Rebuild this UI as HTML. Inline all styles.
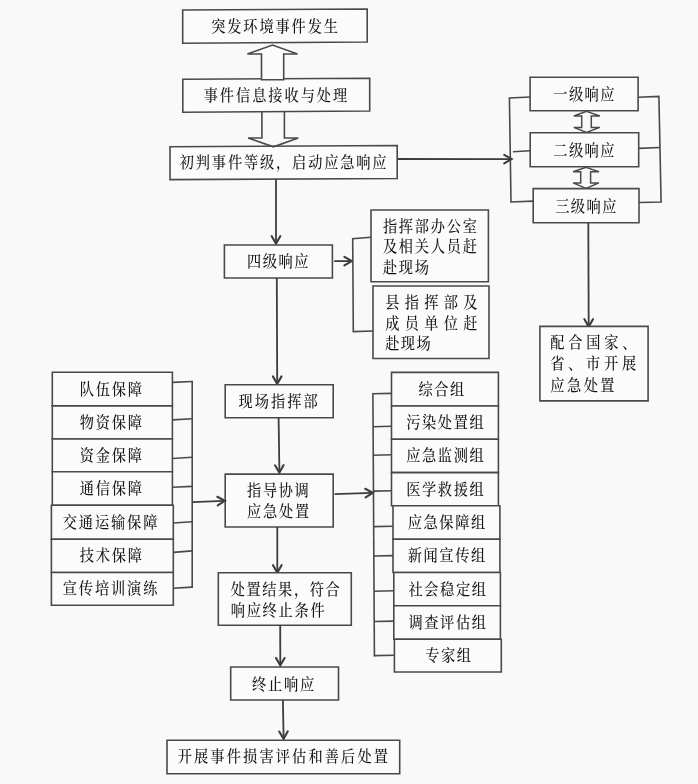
<!DOCTYPE html>
<html lang="zh-CN">
<head>
<meta charset="utf-8">
<title>突发环境事件应急响应流程图</title>
<style>
html,body{margin:0;padding:0;background:#f9f9f9;}
body{width:698px;height:784px;overflow:hidden;}
svg{display:block;}
text{font-family:"Liberation Serif","Noto Serif CJK SC",serif;fill:#161616;font-weight:500;}
</style>
</head>
<body>
<svg width="698" height="784" viewBox="0 0 698 784">
<defs><filter id="soft" x="0" y="0" width="698" height="784" filterUnits="userSpaceOnUse"><feGaussianBlur stdDeviation="0.35"/></filter></defs>
<rect x="0" y="0" width="698" height="784" fill="#f9f9f9"/>
<g filter="url(#soft)">
<path d="M182.7 10.0 L367.2 9.0 L367.2 42.0 L182.7 43.2 Z" fill="#fbfbfb" stroke="#4a4a4a" stroke-width="1.6" stroke-linejoin="miter"/>
<path d="M182.8 79.3 L369.7 78.3 L369.7 111.0 L182.8 112.2 Z" fill="#fbfbfb" stroke="#4a4a4a" stroke-width="1.6" stroke-linejoin="miter"/>
<path d="M170.0 146.8 L397.2 145.5 L397.2 178.5 L170.0 179.6 Z" fill="#fbfbfb" stroke="#4a4a4a" stroke-width="1.6" stroke-linejoin="miter"/>
<text transform="translate(211.13 31.55) scale(0.9 1)" font-size="15.8" x="0.00 17.89 35.78 53.67 71.56 89.44 107.33 125.22" y="0">突发环境事件发生</text>
<text transform="translate(203.73 100.85) scale(0.9 1)" font-size="15.8" x="0.00 17.94 35.89 53.83 71.78 89.72 107.67 125.61 143.56" y="0">事件信息接收与处理</text>
<text transform="translate(179.73 168.15) scale(0.9 1)" font-size="15.8" x="0.00 17.83 35.67 53.50 71.33 89.17 107.00 124.83 142.67 160.50 178.33 196.17 214.00" y="0">初判事件等级，启动应急响应</text>
<path d="M261.5 79.7 L261.5 54.0 L247.4 54.0 L272.5 45.0 L297.5 54.0 L283.7 54.0 L283.7 79.7 Z" fill="#fbfbfb" stroke="#4a4a4a" stroke-width="1.6" stroke-linejoin="miter"/>
<path d="M261.9 112.0 L261.9 138.0 L248.1 138.0 L273.5 146.8 L298.3 138.0 L284.4 138.0 L284.4 112.0" fill="none" stroke="#4a4a4a" stroke-width="1.6" stroke-linejoin="miter"/>
<path d="M530.1 77.2 L638.1 77.2 L638.1 110.8 L530.1 110.8 Z" fill="#fbfbfb" stroke="#4a4a4a" stroke-width="1.6" stroke-linejoin="miter"/>
<path d="M530.2 132.8 L638.7 132.8 L638.7 166.7 L530.2 166.7 Z" fill="#fbfbfb" stroke="#4a4a4a" stroke-width="1.6" stroke-linejoin="miter"/>
<path d="M533.2 188.6 L639.0 188.6 L639.0 222.8 L533.2 222.8 Z" fill="#fbfbfb" stroke="#4a4a4a" stroke-width="1.6" stroke-linejoin="miter"/>
<text transform="translate(553.33 100.25) scale(0.9 1)" font-size="15.8" x="0.00 17.39 34.78 52.17" y="0">一级响应</text>
<text transform="translate(553.33 156.05) scale(0.9 1)" font-size="15.8" x="0.00 17.39 34.78 52.17" y="0">二级响应</text>
<text transform="translate(555.23 211.85) scale(0.9 1)" font-size="15.8" x="0.00 17.39 34.78 52.17" y="0">三级响应</text>
<path d="M586.5 111.4 L599.8 116.0 L591.3 116.0 L591.3 127.4 L599.8 127.4 L586.5 132.4 L573.8 127.4 L581.7 127.4 L581.7 116.0 L573.8 116.0 Z" fill="none" stroke="#4a4a4a" stroke-width="1.5" stroke-linejoin="miter"/>
<path d="M586.1 167.4 L598.9 171.7 L590.6 171.7 L590.6 182.9 L598.9 182.9 L586.1 188.4 L573.1 182.9 L580.7 182.9 L580.7 171.7 L573.1 171.7 Z" fill="none" stroke="#4a4a4a" stroke-width="1.5" stroke-linejoin="miter"/>
<path d="M530.3 97.0 L509.4 98.0 L511.0 202.0 L533.0 201.1" fill="none" stroke="#4a4a4a" stroke-width="1.6" stroke-linejoin="miter"/>
<path d="M512.9 151.8 L530.2 150.8" fill="none" stroke="#4a4a4a" stroke-width="1.6"/>
<path d="M638.1 97.3 L658.9 96.4 L661.1 202.0 L639.0 202.5" fill="none" stroke="#4a4a4a" stroke-width="1.6" stroke-linejoin="miter"/>
<path d="M638.7 148.4 L659.9 147.5" fill="none" stroke="#4a4a4a" stroke-width="1.6"/>
<path d="M397.2 159.0 L510.8 159.1" fill="none" stroke="#3e3e3e" stroke-width="1.8"/>
<path d="M504.2 163.4 L511.6 159.1 L504.2 154.8" fill="none" stroke="#3e3e3e" stroke-width="2.1" stroke-linejoin="miter" stroke-linecap="round"/>
<path d="M588.3 222.8 L588.7 325.8" fill="none" stroke="#3e3e3e" stroke-width="1.8"/>
<path d="M584.4 319.2 L588.7 326.6 L593.0 319.2" fill="none" stroke="#3e3e3e" stroke-width="2.1" stroke-linejoin="miter" stroke-linecap="round"/>
<path d="M539.9 326.4 L648.1 326.4 L648.1 400.9 L539.9 400.9 Z" fill="#fbfbfb" stroke="#4a4a4a" stroke-width="1.6" stroke-linejoin="miter"/>
<text transform="translate(550.13 348.45) scale(0.9 1)" font-size="15.8" x="0.00 20.06 40.11 60.17 80.22" y="0">配合国家、</text>
<text transform="translate(550.13 369.45) scale(0.9 1)" font-size="15.8" x="0.00 19.94 39.89 59.83 79.78" y="0">省、市开展</text>
<text transform="translate(550.13 391.15) scale(0.9 1)" font-size="15.8" x="0.00 18.61 37.22 55.83" y="0">应急处置</text>
<path d="M276.0 179.3 L276.0 242.8" fill="none" stroke="#3e3e3e" stroke-width="1.8"/>
<path d="M271.7 236.2 L276.0 243.6 L280.3 236.2" fill="none" stroke="#3e3e3e" stroke-width="2.1" stroke-linejoin="miter" stroke-linecap="round"/>
<path d="M224.4 245.0 L332.4 245.0 L332.4 278.0 L224.4 278.0 Z" fill="#fbfbfb" stroke="#4a4a4a" stroke-width="1.6" stroke-linejoin="miter"/>
<text transform="translate(247.03 267.35) scale(0.9 1)" font-size="15.8" x="0.00 17.50 35.00 52.50" y="0">四级响应</text>
<path d="M334.2 261.1 L351.0 261.1" fill="none" stroke="#3e3e3e" stroke-width="1.8"/>
<path d="M344.4 265.4 L351.8 261.1 L344.4 256.8" fill="none" stroke="#3e3e3e" stroke-width="2.1" stroke-linejoin="miter" stroke-linecap="round"/>
<path d="M371.0 237.2 L352.7 238.8 L353.3 331.6 L373.0 331.0" fill="none" stroke="#4a4a4a" stroke-width="1.6" stroke-linejoin="miter"/>
<path d="M371.0 210.0 L488.4 210.0 L488.4 281.7 L371.0 281.7 Z" fill="#fbfbfb" stroke="#4a4a4a" stroke-width="1.6" stroke-linejoin="miter"/>
<path d="M373.0 286.0 L489.0 286.0 L489.0 358.5 L373.0 358.5 Z" fill="#fbfbfb" stroke="#4a4a4a" stroke-width="1.6" stroke-linejoin="miter"/>
<text transform="translate(382.93 231.65) scale(0.9 1)" font-size="15.8" x="0.00 17.72 35.44 53.17 70.89 88.61" y="0">指挥部办公室</text>
<text transform="translate(382.93 252.35) scale(0.9 1)" font-size="15.8" x="0.00 17.72 35.44 53.17 70.89 88.61" y="0">及相关人员赶</text>
<text transform="translate(382.93 272.75) scale(0.9 1)" font-size="15.8" x="0.00 17.72 35.44" y="0">赴现场</text>
<text transform="translate(385.13 308.05) scale(0.9 1)" font-size="15.8" x="0.00 21.72 43.44 65.17 86.89" y="0">县指挥部及</text>
<text transform="translate(385.13 328.55) scale(0.9 1)" font-size="15.8" x="0.00 21.72 43.44 65.17 86.89" y="0">成员单位赶</text>
<text transform="translate(385.13 348.85) scale(0.9 1)" font-size="15.8" x="0.00 17.50 35.00" y="0">赴现场</text>
<path d="M276.8 278.0 L277.2 383.0" fill="none" stroke="#3e3e3e" stroke-width="1.8"/>
<path d="M272.9 376.4 L277.2 383.8 L281.5 376.4" fill="none" stroke="#3e3e3e" stroke-width="2.1" stroke-linejoin="miter" stroke-linecap="round"/>
<path d="M225.2 384.7 L333.2 384.7 L333.2 417.8 L225.2 417.8 Z" fill="#fbfbfb" stroke="#4a4a4a" stroke-width="1.6" stroke-linejoin="miter"/>
<text transform="translate(238.43 406.55) scale(0.9 1)" font-size="15.8" x="0.00 18.06 36.11 54.17 72.22" y="0">现场指挥部</text>
<path d="M278.6 417.8 L279.4 471.8" fill="none" stroke="#3e3e3e" stroke-width="1.8"/>
<path d="M275.0 465.3 L279.4 472.6 L283.6 465.1" fill="none" stroke="#3e3e3e" stroke-width="2.1" stroke-linejoin="miter" stroke-linecap="round"/>
<path d="M225.2 474.1 L333.2 474.1 L333.2 527.0 L225.2 527.0 Z" fill="#fbfbfb" stroke="#4a4a4a" stroke-width="1.6" stroke-linejoin="miter"/>
<text transform="translate(247.03 495.85) scale(0.9 1)" font-size="15.8" x="0.00 17.61 35.22 52.83" y="0">指导协调</text>
<text transform="translate(247.03 517.05) scale(0.9 1)" font-size="15.8" x="0.00 17.78 35.56 53.33" y="0">应急处置</text>
<path d="M277.3 527.0 L277.3 571.8" fill="none" stroke="#3e3e3e" stroke-width="1.8"/>
<path d="M273.0 565.2 L277.3 572.6 L281.6 565.2" fill="none" stroke="#3e3e3e" stroke-width="2.1" stroke-linejoin="miter" stroke-linecap="round"/>
<path d="M218.3 572.8 L351.3 572.8 L351.3 625.3 L218.3 625.3 Z" fill="#fbfbfb" stroke="#4a4a4a" stroke-width="1.6" stroke-linejoin="miter"/>
<text transform="translate(230.73 595.45) scale(0.9 1)" font-size="15.8" x="0.00 17.56 35.11 52.67 70.22 87.78 105.33" y="0">处置结果，符合</text>
<text transform="translate(230.73 615.65) scale(0.9 1)" font-size="15.8" x="0.00 17.72 35.44 53.17 70.89 88.61" y="0">响应终止条件</text>
<path d="M280.2 625.4 L280.3 664.6" fill="none" stroke="#3e3e3e" stroke-width="1.8"/>
<path d="M276.0 658.0 L280.3 665.4 L284.6 658.0" fill="none" stroke="#3e3e3e" stroke-width="2.1" stroke-linejoin="miter" stroke-linecap="round"/>
<path d="M230.7 667.0 L338.5 667.0 L338.5 700.0 L230.7 700.0 Z" fill="#fbfbfb" stroke="#4a4a4a" stroke-width="1.6" stroke-linejoin="miter"/>
<text transform="translate(251.93 689.75) scale(0.9 1)" font-size="15.8" x="0.00 17.83 35.67 53.50" y="0">终止响应</text>
<path d="M282.9 700.0 L283.6 738.0" fill="none" stroke="#3e3e3e" stroke-width="1.8"/>
<path d="M279.2 731.5 L283.6 738.8 L287.8 731.3" fill="none" stroke="#3e3e3e" stroke-width="2.1" stroke-linejoin="miter" stroke-linecap="round"/>
<path d="M167.0 740.2 L399.7 740.2 L399.7 773.8 L167.0 773.8 Z" fill="#fbfbfb" stroke="#4a4a4a" stroke-width="1.6" stroke-linejoin="miter"/>
<text transform="translate(177.63 762.45) scale(0.9 1)" font-size="15.8" x="0.00 18.17 36.33 54.50 72.67 90.83 109.00 127.17 145.33 163.50 181.67 199.83 218.00" y="0">开展事件损害评估和善后处置</text>
<path d="M52.3 372.3 L172.4 372.3 L172.4 405.9 L52.3 405.9 Z" fill="#fbfbfb" stroke="#4a4a4a" stroke-width="1.6" stroke-linejoin="miter"/>
<text transform="translate(79.83 394.65) scale(0.9 1)" font-size="15.8" x="0.00 17.72 35.44 53.17" y="0">队伍保障</text>
<path d="M52.3 405.9 L172.4 405.9 L172.4 439.0 L52.3 439.0 Z" fill="#fbfbfb" stroke="#4a4a4a" stroke-width="1.6" stroke-linejoin="miter"/>
<text transform="translate(79.83 428.00) scale(0.9 1)" font-size="15.8" x="0.00 17.72 35.44 53.17" y="0">物资保障</text>
<path d="M52.3 439.0 L172.4 439.0 L172.4 471.7 L52.3 471.7 Z" fill="#fbfbfb" stroke="#4a4a4a" stroke-width="1.6" stroke-linejoin="miter"/>
<text transform="translate(79.83 460.90) scale(0.9 1)" font-size="15.8" x="0.00 17.72 35.44 53.17" y="0">资金保障</text>
<path d="M52.3 471.7 L172.4 471.7 L172.4 505.3 L52.3 505.3 Z" fill="#fbfbfb" stroke="#4a4a4a" stroke-width="1.6" stroke-linejoin="miter"/>
<text transform="translate(79.83 494.05) scale(0.9 1)" font-size="15.8" x="0.00 17.72 35.44 53.17" y="0">通信保障</text>
<path d="M51.4 505.3 L173.3 505.3 L173.3 539.2 L51.4 539.2 Z" fill="#fbfbfb" stroke="#4a4a4a" stroke-width="1.6" stroke-linejoin="miter"/>
<text transform="translate(62.73 527.80) scale(0.9 1)" font-size="15.8" x="0.00 17.89 35.78 53.67 71.56 89.44" y="0">交通运输保障</text>
<path d="M51.4 539.2 L173.3 539.2 L173.3 572.5 L51.4 572.5 Z" fill="#fbfbfb" stroke="#4a4a4a" stroke-width="1.6" stroke-linejoin="miter"/>
<text transform="translate(79.83 561.40) scale(0.9 1)" font-size="15.8" x="0.00 17.72 35.44 53.17" y="0">技术保障</text>
<path d="M51.4 572.5 L173.3 572.5 L173.3 605.2 L51.4 605.2 Z" fill="#fbfbfb" stroke="#4a4a4a" stroke-width="1.6" stroke-linejoin="miter"/>
<text transform="translate(62.73 594.40) scale(0.9 1)" font-size="15.8" x="0.00 17.89 35.78 53.67 71.56 89.44" y="0">宣传培训演练</text>
<path d="M172.4 382.4 L192.2 381.5" fill="none" stroke="#4a4a4a" stroke-width="1.6"/>
<path d="M172.4 419.9 L192.2 418.7" fill="none" stroke="#4a4a4a" stroke-width="1.6"/>
<path d="M172.4 458.5 L192.2 457.3" fill="none" stroke="#4a4a4a" stroke-width="1.6"/>
<path d="M172.4 487.3 L192.2 486.4" fill="none" stroke="#4a4a4a" stroke-width="1.6"/>
<path d="M173.3 523.0 L192.2 521.8" fill="none" stroke="#4a4a4a" stroke-width="1.6"/>
<path d="M173.3 552.4 L192.2 550.9" fill="none" stroke="#4a4a4a" stroke-width="1.6"/>
<path d="M173.3 588.3 L192.2 587.1" fill="none" stroke="#4a4a4a" stroke-width="1.6"/>
<path d="M192.2 380.7 L192.2 587.9" fill="none" stroke="#4a4a4a" stroke-width="1.6"/>
<path d="M192.2 502.2 L224.1 500.8" fill="none" stroke="#3e3e3e" stroke-width="1.8"/>
<path d="M217.7 505.4 L224.9 500.8 L217.3 496.8" fill="none" stroke="#3e3e3e" stroke-width="2.1" stroke-linejoin="miter" stroke-linecap="round"/>
<path d="M391.5 372.4 L498.4 372.4 L498.4 406.0 L391.5 406.0 Z" fill="#fbfbfb" stroke="#4a4a4a" stroke-width="1.6" stroke-linejoin="miter"/>
<text transform="translate(418.53 394.75) scale(0.9 1)" font-size="15.8" x="0.00 17.50 35.00" y="0">综合组</text>
<path d="M391.5 406.0 L498.4 406.0 L498.4 439.2 L391.5 439.2 Z" fill="#fbfbfb" stroke="#4a4a4a" stroke-width="1.6" stroke-linejoin="miter"/>
<text transform="translate(406.13 428.15) scale(0.9 1)" font-size="15.8" x="0.00 17.61 35.22 52.83 70.44" y="0">污染处置组</text>
<path d="M391.5 439.2 L498.4 439.2 L498.4 472.6 L391.5 472.6 Z" fill="#fbfbfb" stroke="#4a4a4a" stroke-width="1.6" stroke-linejoin="miter"/>
<text transform="translate(406.13 461.45) scale(0.9 1)" font-size="15.8" x="0.00 17.61 35.22 52.83 70.44" y="0">应急监测组</text>
<path d="M391.5 472.6 L498.4 472.6 L498.4 505.8 L391.5 505.8 Z" fill="#fbfbfb" stroke="#4a4a4a" stroke-width="1.6" stroke-linejoin="miter"/>
<text transform="translate(406.13 494.75) scale(0.9 1)" font-size="15.8" x="0.00 17.61 35.22 52.83 70.44" y="0">医学救援组</text>
<path d="M393.0 505.8 L499.9 505.8 L499.9 539.2 L393.0 539.2 Z" fill="#fbfbfb" stroke="#4a4a4a" stroke-width="1.6" stroke-linejoin="miter"/>
<text transform="translate(407.63 528.05) scale(0.9 1)" font-size="15.8" x="0.00 17.61 35.22 52.83 70.44" y="0">应急保障组</text>
<path d="M393.0 539.2 L499.9 539.2 L499.9 572.5 L393.0 572.5 Z" fill="#fbfbfb" stroke="#4a4a4a" stroke-width="1.6" stroke-linejoin="miter"/>
<text transform="translate(407.63 561.40) scale(0.9 1)" font-size="15.8" x="0.00 17.61 35.22 52.83 70.44" y="0">新闻宣传组</text>
<path d="M393.8 572.5 L500.4 572.5 L500.4 605.8 L393.8 605.8 Z" fill="#fbfbfb" stroke="#4a4a4a" stroke-width="1.6" stroke-linejoin="miter"/>
<text transform="translate(408.43 594.70) scale(0.9 1)" font-size="15.8" x="0.00 17.61 35.22 52.83 70.44" y="0">社会稳定组</text>
<path d="M393.8 605.8 L500.4 605.8 L500.4 639.3 L393.8 639.3 Z" fill="#fbfbfb" stroke="#4a4a4a" stroke-width="1.6" stroke-linejoin="miter"/>
<text transform="translate(408.43 628.10) scale(0.9 1)" font-size="15.8" x="0.00 17.61 35.22 52.83 70.44" y="0">调查评估组</text>
<path d="M394.4 639.3 L501.3 639.3 L501.3 672.0 L394.4 672.0 Z" fill="#fbfbfb" stroke="#4a4a4a" stroke-width="1.6" stroke-linejoin="miter"/>
<text transform="translate(425.23 661.20) scale(0.9 1)" font-size="15.8" x="0.00 17.50 35.00" y="0">专家组</text>
<path d="M372.9 393.8 L391.5 393.4" fill="none" stroke="#4a4a4a" stroke-width="1.6"/>
<path d="M373.1 426.7 L391.5 426.3" fill="none" stroke="#4a4a4a" stroke-width="1.6"/>
<path d="M373.3 455.2 L391.5 454.8" fill="none" stroke="#4a4a4a" stroke-width="1.6"/>
<path d="M373.5 491.1 L391.5 490.7" fill="none" stroke="#4a4a4a" stroke-width="1.6"/>
<path d="M373.7 526.6 L393.0 526.2" fill="none" stroke="#4a4a4a" stroke-width="1.6"/>
<path d="M373.8 556.0 L393.0 555.6" fill="none" stroke="#4a4a4a" stroke-width="1.6"/>
<path d="M374.0 591.2 L393.8 590.8" fill="none" stroke="#4a4a4a" stroke-width="1.6"/>
<path d="M374.2 621.5 L393.8 621.1" fill="none" stroke="#4a4a4a" stroke-width="1.6"/>
<path d="M374.4 655.6 L394.4 655.2" fill="none" stroke="#4a4a4a" stroke-width="1.6"/>
<path d="M372.9 393.0 L374.4 656.4" fill="none" stroke="#4a4a4a" stroke-width="1.6"/>
<path d="M334.6 494.2 L372.0 492.8" fill="none" stroke="#3e3e3e" stroke-width="1.8"/>
<path d="M365.6 497.4 L372.8 492.8 L365.2 488.8" fill="none" stroke="#3e3e3e" stroke-width="2.1" stroke-linejoin="miter" stroke-linecap="round"/>
</g>
</svg>
</body>
</html>
